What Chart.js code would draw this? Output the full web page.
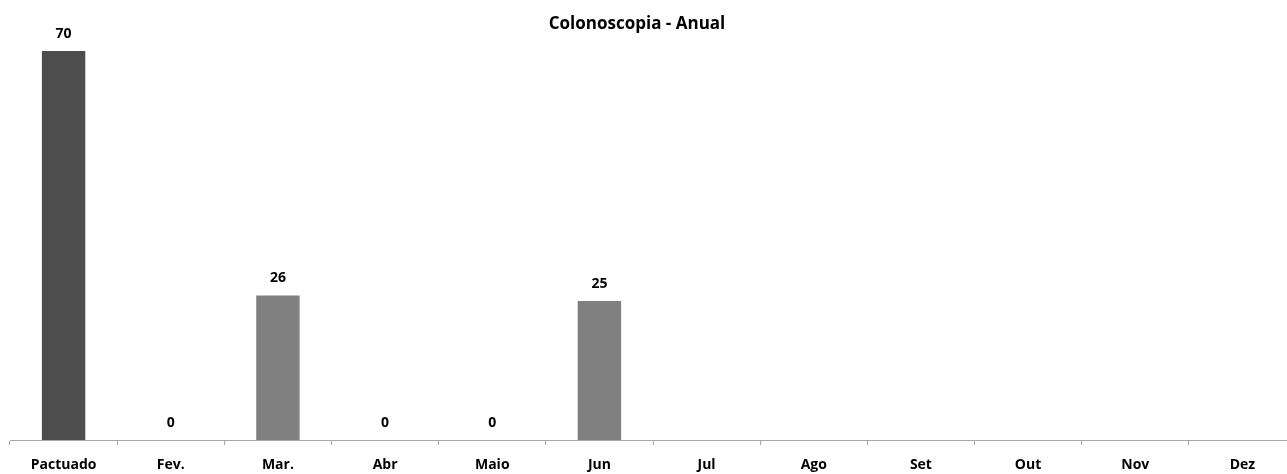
<!DOCTYPE html>
<html>
<head>
<meta charset="utf-8">
<script src="https://cdn.jsdelivr.net/npm/chart.js@4.4.1/dist/chart.umd.min.js"></script>
<style>
html,body{margin:0;padding:0;background:#fff;overflow:hidden;}
#wrap{width:1287px;height:474px;position:relative;overflow:hidden;}
canvas{display:block;}
</style>
</head>
<body>
<div id="wrap"><canvas id="c" width="1297" height="474"></canvas></div>
<script>
const categories = ["Pactuado","Fev.","Mar.","Abr","Maio","Jun","Jul","Ago","Set","Out","Nov","Dez"];
const values = [70, 0, 26, 0, 0, 25, null, null, null, null, null, null];
const barColors = ["#4d4d4d","#808080","#808080","#808080","#808080","#808080","#808080","#808080","#808080","#808080","#808080","#808080"];
const titleText = "Colonoscopia - Anual";
const FONT = "'Open Sans', 'Noto Sans', sans-serif";

const valueLabels = {
  id: 'valueLabels',
  afterDatasetsDraw(chart) {
    const ctx = chart.ctx;
    const meta = chart.getDatasetMeta(0);
    ctx.save();
    ctx.font = "bold 14px " + FONT;
    ctx.fillStyle = "#000";
    ctx.textAlign = "center";
    ctx.textBaseline = "middle";
    meta.data.forEach((el, i) => {
      const v = values[i];
      if (v === null || v === undefined) return;
      ctx.fillText(String(v), el.x, el.y - 17);
    });
    ctx.restore();
  }
};

const chartTitle = {
  id: 'chartTitle',
  afterDraw(chart) {
    const ctx = chart.ctx;
    ctx.save();
    ctx.font = "bold 17px " + FONT;
    ctx.fillStyle = "#000";
    ctx.textAlign = "center";
    ctx.textBaseline = "middle";
    ctx.fillText(titleText, 637, 24);
    ctx.restore();
  }
};

new Chart(document.getElementById('c'), {
  type: 'bar',
  data: {
    labels: categories,
    datasets: [{
      data: values,
      backgroundColor: barColors,
      borderWidth: 0,
      barPercentage: 0.405,
      categoryPercentage: 1.0
    }]
  },
  options: {
    responsive: false,
    animation: false,
    devicePixelRatio: 1,
    layout: { padding: { left: 10, right: 1, top: 51, bottom: 0 } },
    plugins: {
      legend: { display: false },
      tooltip: { enabled: false },
      title: { display: false }
    },
    scales: {
      y: {
        display: false,
        min: 0,
        max: 70
      },
      x: {
        offset: true,
        afterFit(scale) { scale.height = 34; },
        border: { display: true, color: "#a6a6a6", width: 1 },
        grid: {
          offset: true,
          drawOnChartArea: false,
          drawTicks: true,
          tickLength: 5,
          color: "#a6a6a6"
        },
        ticks: {
          color: "#000",
          padding: 12,
          font: { family: FONT, size: 14, weight: 'bold' },
          maxRotation: 0,
          autoSkip: false
        }
      }
    }
  },
  plugins: [valueLabels, chartTitle]
});
</script>
</body>
</html>
